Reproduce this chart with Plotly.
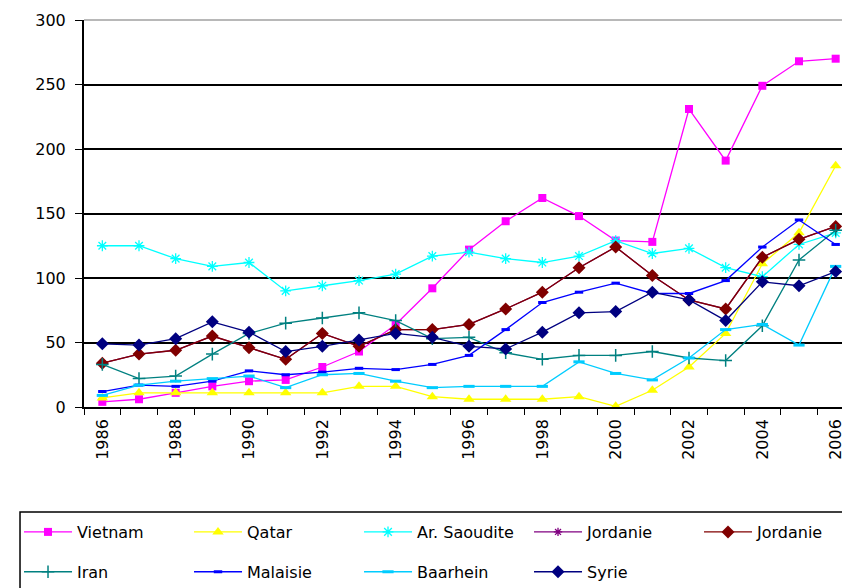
import plotly.graph_objects as go

years = list(range(1986, 2007))

vietnam = [4, 6, 11, 16, 20, 21, 31, 43, 64, 92, 122, 144, 162, 148, 129, 128, 231, 191, 249, 268, 270]
qatar = [7, 11, 11, 11, 11, 11, 11, 16, 16, 8, 6, 6, 6, 8, 0.5, 13, 31, 57, 111, 135, 187]
saoudite = [125, 125, 115, 109, 112, 90, 94, 98, 103, 117, 120, 115, 112, 117, 129, 119, 123, 108, 101, 126, 135]
jordanie_1 = [34, 41, 44, 55, 46, 37, 57, 47, 60, 60, 64, 76, 89, 108, 124, 102, 83, 76, 116, 130, 140]
jordanie_2 = [34, 41, 44, 55, 46, 37, 57, 47, 60, 60, 64, 76, 89, 108, 124, 102, 83, 76, 116, 130, 140]
iran = [33, 22, 24, 41, 57, 65, 69, 73, 67, 53, 54, 42, 37, 40, 40, 43, 38, 36, 63, 114, 137]
malaisie = [12, 17, 16, 20, 28, 25, 27, 30, 29, 33, 40, 60, 81, 89, 96, 88, 88, 98, 124, 145, 126]
baarhein = [9, 17, 20, 22, 24, 15, 25, 26, 20, 15, 16, 16, 16, 35, 26, 21, 38, 60, 64, 48, 109]
syrie = [49, 48, 53, 66, 58, 43, 47, 52, 57, 54, 47, 45, 58, 73, 74, 89, 83, 67, 97, 94, 105]

year_ticks = list(range(1986, 2007, 2))
y_ticks = [0, 50, 100, 150, 200, 250, 300]
y_grid = [50, 100, 150, 200, 250]

series = [
    ("Vietnam", vietnam, "#FF00FF", dict(symbol="square", size=8, color="#FF00FF"), "legend"),
    ("Qatar", qatar, "#FFFF00", dict(symbol="triangle-up", size=10, color="#FFFF00"), "legend"),
    ("Ar. Saoudite", saoudite, "#00FFFF", dict(symbol="asterisk-open", size=9, color="#00FFFF", line=dict(color="#00FFFF", width=1.3)), "legend"),
    ("Jordanie", jordanie_1, "#800080", dict(symbol="asterisk-open", size=7, color="#800080", line=dict(color="#800080", width=1.3)), "legend"),
    ("Jordanie", jordanie_2, "#800000", dict(symbol="diamond", size=10, color="#800000"), "legend"),
    ("Iran", iran, "#008080", dict(symbol="cross-thin-open", size=9, color="#008080", line=dict(color="#008080", width=1.5)), "legend2"),
    ("Malaisie", malaisie, "#0000FF", dict(symbol="line-ew-open", size=6, color="#0000FF", line=dict(color="#0000FF", width=3)), "legend2"),
    ("Baarhein", baarhein, "#00CCFF", dict(symbol="line-ew-open", size=8, color="#00CCFF", line=dict(color="#00CCFF", width=3)), "legend2"),
    ("Syrie", syrie, "#000080", dict(symbol="diamond", size=10, color="#000080"), "legend2"),
]

fig = go.Figure()
for name, vals, col, mk, lg in series:
    fig.add_trace(go.Scatter(
        x=years, y=vals, name=name, mode="lines+markers",
        line=dict(color=col, width=1.3), marker=mk, legend=lg,
    ))

font = dict(family="DejaVu Sans", size=16, color="black")
leg_common = dict(orientation="h", x=-0.0844, xanchor="left", yanchor="middle",
                  itemwidth=48, entrywidth=107, entrywidthmode="pixels", font=font,
                  bgcolor="rgba(0,0,0,0)", borderwidth=0, itemclick=False)

fig.update_layout(
    width=850, height=588,
    margin=dict(l=76, r=4, t=12, b=189, autoexpand=False),
    paper_bgcolor="white", plot_bgcolor="white",
    font=font,
    xaxis=dict(
        range=[1985.5, 2006.5], tickvals=year_ticks, ticktext=[str(y) for y in year_ticks],
        tickangle=-90, ticks="", showgrid=False, zeroline=False, automargin=False,
        showline=True, linecolor="black", linewidth=1.5,
        minor=dict(tickvals=[y - 0.5 for y in years] + [2006.5], ticks="outside", ticklen=6,
                   tickcolor="black", tickwidth=1.3, showgrid=False),
        ticklabelstandoff=4,
    ),
    yaxis=dict(
        range=[0, 300], tickvals=y_ticks, ticks="outside", ticklen=7, tickcolor="black", tickwidth=1.3,
        showgrid=False, zeroline=False, showline=True, linecolor="black", linewidth=2, automargin=False,
        minor=dict(tickvals=y_grid, ticks="", showgrid=True, gridcolor="black", gridwidth=1.5),
        ticklabelstandoff=6,
    ),
    legend=dict(y=-0.323, **leg_common),
    legend2=dict(y=-0.426, **leg_common),
    shapes=[
        dict(type="line", xref="x domain", yref="y domain", x0=0, x1=1, y0=1, y1=1,
             line=dict(color="#A0A0A0", width=1.5)),
        dict(type="rect", xref="paper", yref="paper", x0=-0.0831, x1=1.05, y0=-0.2713, y1=-0.6,
             line=dict(color="black", width=1.5), fillcolor="rgba(0,0,0,0)"),
    ],
)

fig.write_html("out.html")
